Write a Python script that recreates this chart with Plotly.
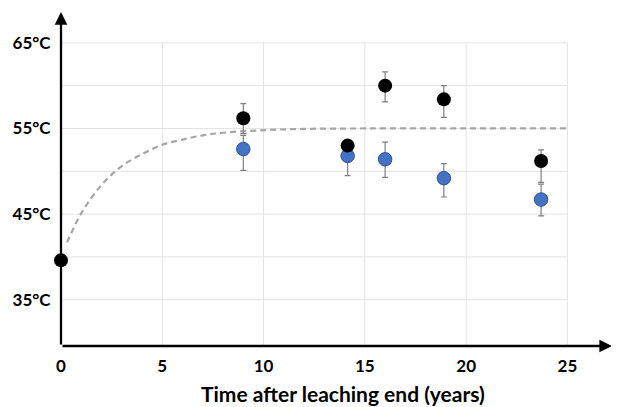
import plotly.graph_objects as go

# Data
black_x = [0, 9, 14.15, 16, 18.9, 23.7]
black_y = [39.6, 56.2, 53.0, 60.0, 58.4, 51.2]
black_err_plus = [0, 1.7, 0.6, 1.6, 1.6, 1.3]
black_err_minus = [0, 1.8, 0.6, 1.9, 2.1, 2.5]

blue_x = [9, 14.15, 16, 18.9, 23.7]
blue_y = [52.6, 51.8, 51.4, 49.2, 46.7]
blue_err_plus = [1.6, 1.2, 2.0, 1.7, 1.8]
blue_err_minus = [2.5, 2.3, 2.1, 2.2, 1.9]

curve_x = [0.3, 1, 2, 3, 4, 5, 6, 7, 8, 10, 12, 15, 20, 25]
curve_y = [41.7, 45.1, 48.4, 50.6, 52.0, 53.1, 53.7, 54.2, 54.5, 54.8, 54.95, 55.0, 55.0, 55.0]

x_ticks = [0, 5, 10, 15, 20, 25]
y_ticks = [35, 45, 55, 65]
y_tick_text = ["35°C", "45°C", "55°C", "65°C"]
y_grid = [35, 40, 45, 50, 55, 60, 65]
x_grid = [5, 10, 15, 20, 25]

x_range = [0, 27.2]
y_range = [29.6, 68.6]
x_grid_end = 25
y_grid_end = 65

FONT = "Lato"

fig = go.Figure()

# grid lines
shapes = []
for gy in y_grid:
    shapes.append(dict(type="line", xref="x", yref="y", x0=0, x1=x_grid_end, y0=gy, y1=gy,
                       line=dict(color="#e3e3e3", width=1), layer="below"))
for gx in x_grid:
    shapes.append(dict(type="line", xref="x", yref="y", x0=gx, x1=gx, y0=y_range[0], y1=y_grid_end,
                       line=dict(color="#e3e3e3", width=1), layer="below"))

fig.add_trace(go.Scatter(x=curve_x, y=curve_y, mode="lines", line_shape="spline",
                         line=dict(color="#a6a6a6", width=2.2, dash="6px,4px"),
                         hoverinfo="skip", showlegend=False))

fig.add_trace(go.Scatter(x=blue_x, y=blue_y, mode="markers",
                         marker=dict(size=13.5, color="#4472C4", line=dict(color="#2F528F", width=1)),
                         error_y=dict(type="data", symmetric=False, array=blue_err_plus,
                                      arrayminus=blue_err_minus, color="#7f7f7f", thickness=1.2, width=3),
                         cliponaxis=False, showlegend=False))

fig.add_trace(go.Scatter(x=black_x, y=black_y, mode="markers",
                         marker=dict(size=14, color="#000000", line=dict(color="#000000", width=0)),
                         error_y=dict(type="data", symmetric=False, array=black_err_plus,
                                      arrayminus=black_err_minus, color="#7f7f7f", thickness=1.2, width=3),
                         cliponaxis=False, showlegend=False))

annotations = [
    # x axis arrow
    dict(xref="x", yref="y", axref="x", ayref="y", x=x_range[1], y=y_range[0],
         ax=0, ay=y_range[0], showarrow=True, arrowhead=2, arrowsize=1.1, arrowwidth=2.3,
         arrowcolor="#000000", text=""),
    # y axis arrow
    dict(xref="x", yref="y", axref="x", ayref="y", x=0, y=y_range[1],
         ax=0, ay=y_range[0], showarrow=True, arrowhead=2, arrowsize=1.1, arrowwidth=2.3,
         arrowcolor="#000000", text=""),
    dict(xref="paper", yref="paper", x=0.512, y=-0.141, yanchor="middle", xanchor="center",
         text="<b>Time after leaching end (years)</b>", showarrow=False,
         font=dict(family=FONT, size=21, color="#000000")),
]

# page body has an 8px margin, so the figure is sized to the visible area
fig.update_layout(
    width=611, height=399,
    margin=dict(l=53, r=7, t=4, b=61),
    paper_bgcolor="white", plot_bgcolor="white",
    shapes=shapes, annotations=annotations,
    xaxis=dict(range=x_range, tickvals=x_ticks, ticktext=[f"<b>{v}</b>" for v in x_ticks],
               showgrid=False, zeroline=False, showline=False,
               ticks="outside", ticklen=5, tickcolor="rgba(0,0,0,0)",
               tickfont=dict(family=FONT, size=17, color="#000000")),
    yaxis=dict(range=y_range, tickvals=y_ticks, ticktext=[f"<b>{t}</b>" for t in y_tick_text],
               showgrid=False, zeroline=False, showline=False,
               ticks="outside", ticklen=6, tickcolor="rgba(0,0,0,0)",
               tickfont=dict(family=FONT, size=17, color="#000000")),
)

fig.write_html("out.html")
